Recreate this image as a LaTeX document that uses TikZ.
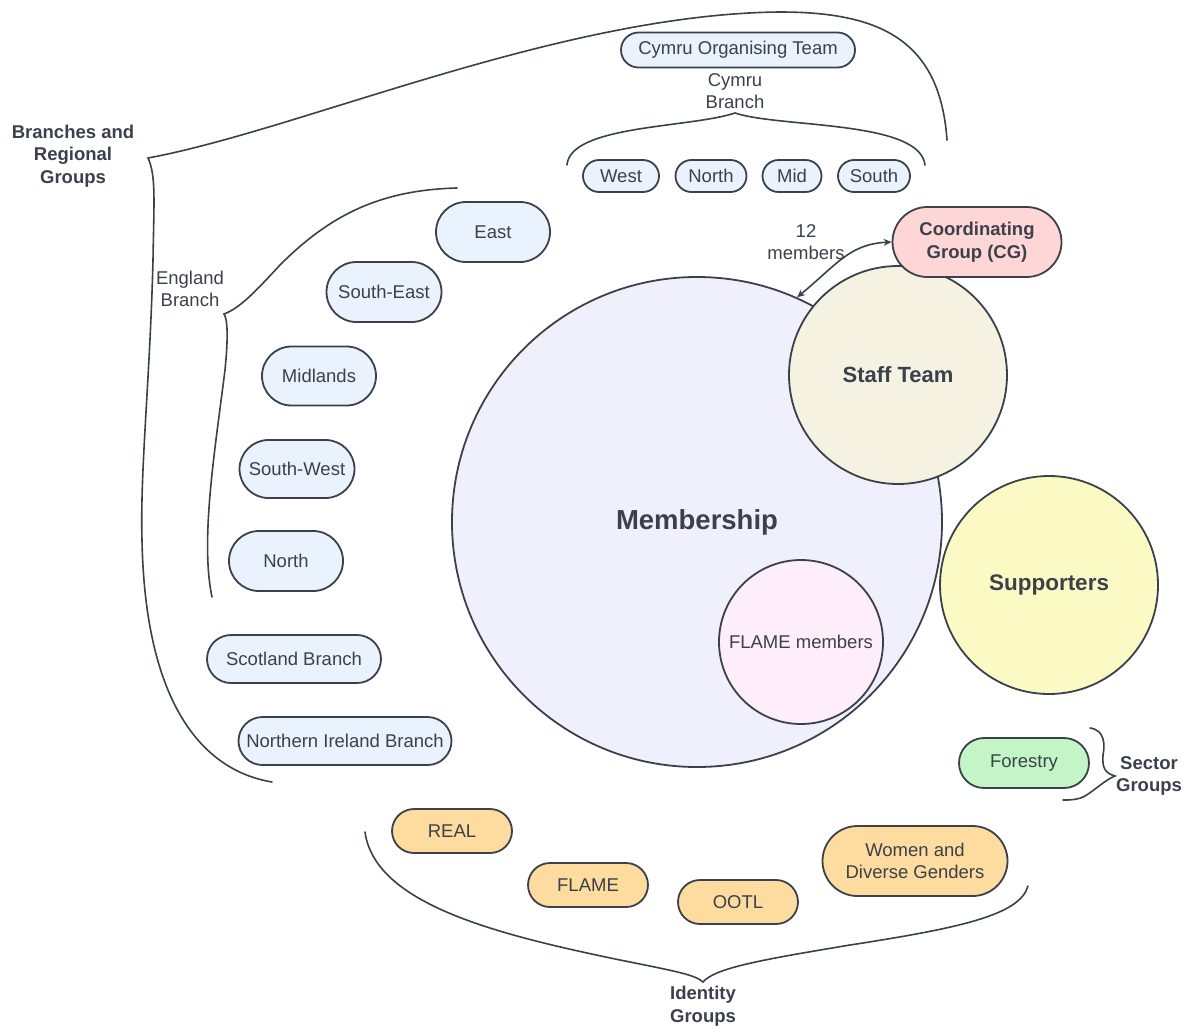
\documentclass[tikz,border=0pt]{standalone}
\usepackage{fontspec}
\setmainfont{Liberation Sans}
\usetikzlibrary{arrows.meta}

\definecolor{ink}{HTML}{3A414A}
\definecolor{branchfill}{HTML}{EAF2FE}
\definecolor{memberfill}{HTML}{F0F0FC}
\definecolor{stafffill}{HTML}{F5F2E2}
\definecolor{supportfill}{HTML}{FBF9C4}
\definecolor{flamefill}{HTML}{FDEEF9}
\definecolor{cgfill}{HTML}{FFD6D6}
\definecolor{sectorfill}{HTML}{C3F5C6}
\definecolor{identityfill}{HTML}{FEDB9E}

\begin{document}
\begin{tikzpicture}[x=1pt, y=-1pt,
  txt/.style={text=ink, font=\fontsize{18.5pt}{22.5pt}\selectfont, align=center, inner sep=0pt},
  boldtxt/.style={txt, font=\fontsize{18.5pt}{22.5pt}\selectfont\bfseries},
  pill/.style 2 args={draw=ink, line width=1.8pt, txt, minimum width=#1, minimum height=#2, rounded corners=#2/2},
  branch/.style 2 args={pill={#1}{#2}, fill=branchfill},
  identity/.style 2 args={pill={#1}{#2}, fill=identityfill},
  bubble/.style={circle, draw=ink, line width=1.8pt, txt, minimum size=#1},
  bracket/.style={draw=ink, line width=1.6pt, line cap=round},
]
\useasboundingbox (0,0) rectangle (1188,1028);

% ---- Cymru branch ----
\node[branch={234pt}{35pt}] (cot) at (738,50) {Cymru Organising Team};
\node[txt] (cymrulbl) at (735,91) {Cymru\\Branch};
\node[branch={76pt}{32pt}] (cwest) at (621,176) {West};
\node[branch={71pt}{32pt}] (cnorth) at (711,176) {North};
\node[branch={59pt}{32pt}] (cmid) at (792,176) {Mid};
\node[branch={72pt}{32pt}] (csouth) at (874,176) {South};

% ---- England branch ----
\node[branch={114pt}{60pt}] (east) at (493,232) {East};
\node[branch={115pt}{60pt}] (southeast) at (384,292) {South-East};
\node[branch={114pt}{59pt}] (midlands) at (319,376) {Midlands};
\node[branch={115pt}{58pt}] (southwest) at (297,469) {South-West};
\node[branch={114pt}{60pt}] (enorth) at (286,561) {North};
\node[txt] (englandlbl) at (190,289) {England\\Branch};

% ---- other branches ----
\node[branch={174pt}{48pt}] (scotland) at (294,659) {Scotland Branch};
\node[branch={213pt}{48pt}] (nireland) at (345,741) {Northern Ireland Branch};
\node[boldtxt] (brancheslbl) at (73,156) {Branches and\\Regional\\Groups};

% ---- membership circles ----
\node[bubble=490pt, fill=memberfill, font=\fontsize{27.5pt}{32pt}\selectfont\bfseries] (membership) at (697,522) {Membership};
\node[bubble=164pt, fill=flamefill] (flamemembers) at (801,642) {FLAME members};
\node[bubble=218pt, fill=stafffill, font=\fontsize{22pt}{26pt}\selectfont\bfseries] (staff) at (898,375) {Staff Team};
\node[bubble=218pt, fill=supportfill, font=\fontsize{22.5pt}{26pt}\selectfont\bfseries] (supporters) at (1049,585) {Supporters};
\node[pill={169pt}{70pt}, fill=cgfill, font=\fontsize{18.5pt}{22.5pt}\selectfont\bfseries] (cg) at (977,242) {Coordinating\\Group (CG)};

% ---- coordinating group link ----
\node[txt] (memberslbl) at (806,242) {12\\members};
\draw[draw=ink, line width=1.6pt, {Stealth[length=8pt,width=7pt]}-{Stealth[length=8pt,width=7pt]}]
  (membership.66) .. controls +(40,-33) and +(-42,2) .. (cg.west);

% ---- sector groups ----
\node[pill={130pt}{50pt}, fill=sectorfill] (forestry) at (1024,763) {Forestry};
\node[boldtxt] (sectorlbl) at (1149,776) {Sector\\Groups};

% ---- identity groups ----
\node[identity={120pt}{44pt}] (real) at (452,831) {REAL};
\node[identity={120pt}{44pt}] (flame) at (588,885) {FLAME};
\node[identity={120pt}{44pt}] (ootl) at (738,902) {OOTL};
\node[identity={185pt}{70pt}] (women) at (915,861) {Women and\\Diverse Genders};
\node[boldtxt] (identitylbl) at (703,1006) {Identity\\Groups};

% ---- grouping braces ----
% Branches and Regional Groups
\draw[bracket] (947,140) .. controls (940,40) and (880,12) .. (780,12)
  .. controls (560,14) and (300,130) .. (148,158)
  .. controls (156,175) and (154,200) .. (153,260)
  .. controls (150,380) and (140,470) .. (142,540)
  .. controls (145,700) and (200,770) .. (272,782);
% England Branch
\draw[bracket] (457,188) .. controls (380,190) and (330,215) .. (280,265)
  .. controls (255,292) and (240,308) .. (224,314)
  .. controls (228,320) and (228,340) .. (225,370)
  .. controls (215,450) and (200,540) .. (212,597);
% Cymru Branch
\draw[bracket] (567,165) .. controls (570,125) and (690,128) .. (735,113)
  .. controls (780,128) and (920,120) .. (925,165);
% Identity Groups
\draw[bracket] (365,832) .. controls (375,905) and (500,935) .. (620,960)
  .. controls (680,972) and (695,975) .. (703,982)
  .. controls (715,968) and (760,960) .. (850,945)
  .. controls (960,928) and (1020,915) .. (1028,886);
% Sector Groups
\draw[bracket] (1090,728) .. controls (1105,730) and (1105,745) .. (1103,755)
  .. controls (1102,768) and (1105,773) .. (1115,776)
  .. controls (1105,780) and (1095,790) .. (1085,796)
  .. controls (1078,800) and (1070,800) .. (1063,800);
\end{tikzpicture}
\end{document}
